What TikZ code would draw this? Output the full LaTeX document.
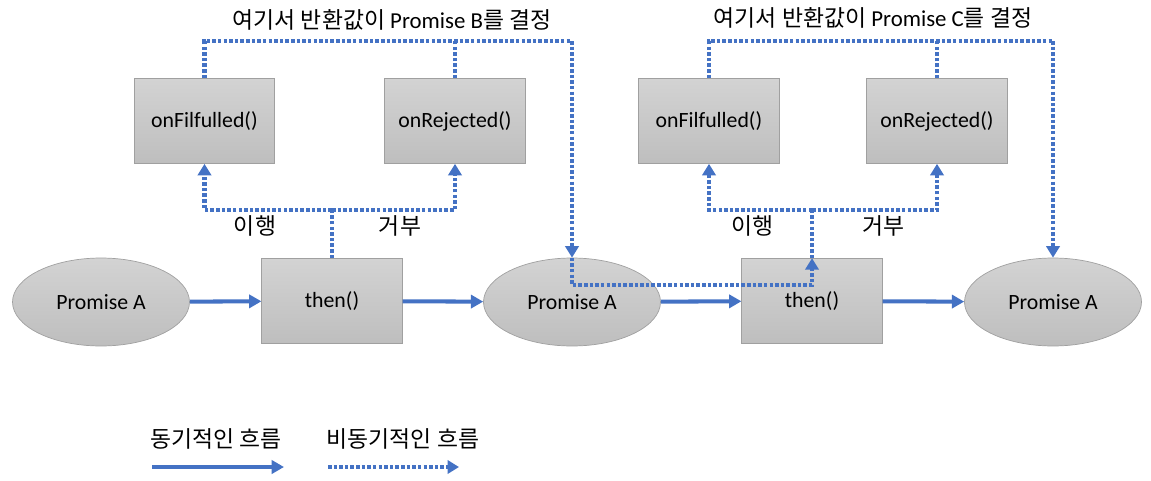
\documentclass[tikz,border=0pt]{standalone}
\usepackage{fontspec}
\setmainfont{Carlito}
\newfontfamily\kr{Noto Sans CJK KR}
\usetikzlibrary{arrows.meta}
\usetikzlibrary{shapes.geometric}
\definecolor{flowblue}{RGB}{68,114,196}
\definecolor{shadetop}{RGB}{211,211,211}
\definecolor{shadebot}{RGB}{190,190,190}
\definecolor{edgegray}{RGB}{160,160,160}

\tikzset{
  fnbox/.style={draw=edgegray, top color=shadetop, bottom color=shadebot,
    minimum width=2.81cm, minimum height=1.7cm, inner sep=0pt},
  promise/.style={ellipse, draw=edgegray, top color=shadetop, bottom color=shadebot,
    minimum width=3.54cm, minimum height=1.76cm, inner sep=0pt},
  sync/.style={flowblue, line width=2.3pt, -{Triangle[length=7pt,width=7.5pt]}},
  async/.style={flowblue, line width=2.5pt, dash pattern=on 2pt off 1.2pt},
  tip/.style={-{Triangle[length=6.5pt,width=7.5pt]}},
  notetext/.style={inner sep=0pt, font=\fontsize{13}{15}\selectfont}
}

\begin{document}
\begin{tikzpicture}[x=0.02cm, y=-0.02cm, font=\fontsize{12.4}{14}\selectfont]
    \useasboundingbox (0,0) rectangle (1151,480);

    % main chain
    \node[promise] (pa1) at (101,302) {Promise A};
    \node[fnbox] (then1) at (332,301) {then()};
    \node[promise] (pa2) at (572,302) {Promise A};
    \node[fnbox] (then2) at (812,301) {then()};
    \node[promise] (pa3) at (1053,302) {Promise A};

    \draw[sync] (pa1) -- (then1);
    \draw[sync] (then1) -- (pa2);
    \draw[sync] (pa2) -- (then2);
    \draw[sync] (then2) -- (pa3);

    % first then()
    \node[fnbox] (onful1) at (204.5,121) {onFilfulled()};
    \node[fnbox] (onrej1) at (455,121) {onRejected()};
    \coordinate (fork1) at (332,210);
    \coordinate (top1) at (572,41);
    \draw[async] (then1.north) -- (fork1);
    \draw[async,tip] (fork1) -| (onful1.south);
    \draw[async,tip] (fork1) -| (onrej1.south);
    \draw[async] (onful1.north) |- (top1);
    \draw[async] (onrej1.north) -- (onrej1.north |- top1);
    \draw[async,tip] (top1) -- (pa2.north);
    \node[notetext] (yes1) at (255,226) {\kr 이행};
    \node[notetext] (no1) at (400,226) {\kr 거부};
    \node[notetext] (ret1) at (392,20) {{\kr 여기서 반환값이} Promise B{\kr 를 결정}};

    % second then()
    \node[fnbox] (onful2) at (709,121) {onFilfulled()};
    \node[fnbox] (onrej2) at (937,121) {onRejected()};
    \coordinate (low) at (572,285);
    \coordinate (fork2) at (812,210);
    \coordinate (top2) at (1053,41);
    \draw[async,tip] (pa2.north) -- (low) -| (then2.north);
    \draw[async] (then2.north) -- (fork2);
    \draw[async,tip] (fork2) -| (onful2.south);
    \draw[async,tip] (fork2) -| (onrej2.south);
    \draw[async] (onful2.north) |- (top2);
    \draw[async] (onrej2.north) -- (onrej2.north |- top2);
    \draw[async,tip] (top2) -- (pa3.north);
    \node[notetext] (yes2) at (752,226) {\kr 이행};
    \node[notetext] (no2) at (883,226) {\kr 거부};
    \node[notetext] (ret2) at (873,18) {{\kr 여기서 반환값이} Promise C{\kr 를 결정}};

    % legend
    \node[notetext] (leg1) at (216,439) {\kr 동기적인 흐름};
    \node[notetext] (leg2) at (403,439) {\kr 비동기적인 흐름};
    \coordinate (s0) at (152,467);
    \coordinate (s1) at (284,467);
    \coordinate (a0) at (328,467);
    \coordinate (a1) at (459,467);
    \draw[sync] (s0) -- (s1);
    \draw[async,tip] (a0) -- (a1);

  \end{tikzpicture}
\end{document}
